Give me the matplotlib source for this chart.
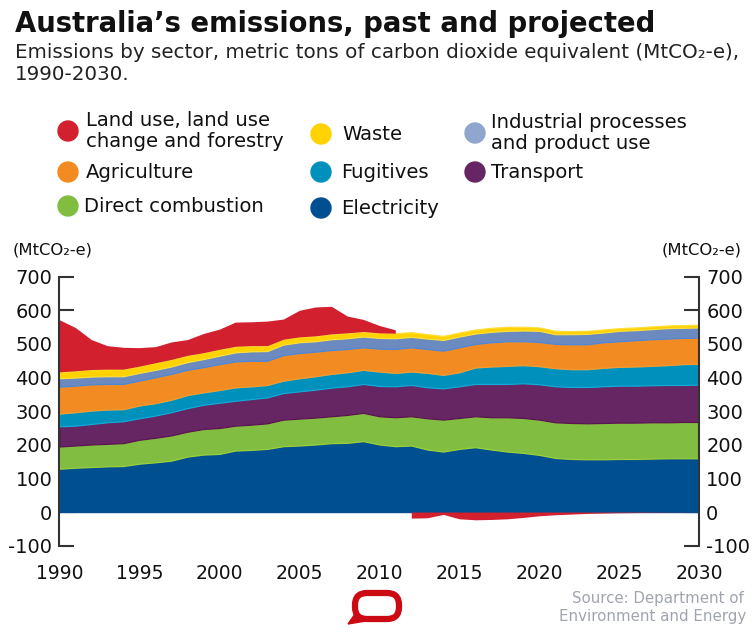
import numpy as np
import matplotlib
matplotlib.use("Agg")
import matplotlib.pyplot as plt
from matplotlib.patches import Circle, FancyBboxPatch, Polygon

plt.rcParams["axes.unicode_minus"] = False

# Jahre 1990-2030
years = np.arange(1990, 2031)

# Sektoren, MtCO2-e
electricity = [129, 132, 134, 136, 137, 144, 148, 153, 165, 171, 173, 183, 185, 188, 196, 198,
               201, 205, 206, 211, 201, 196, 198, 186, 180, 188, 193, 186, 180, 176, 170, 161,
               158, 157, 157, 158, 158, 159, 160, 160, 160]
direct_combustion = [66, 66, 67, 67, 68, 71, 73, 75, 74, 76, 77, 74, 75, 76, 79, 80,
                     80, 80, 83, 84, 84, 86, 87, 93, 95, 92, 92, 96, 102, 104, 105, 106,
                     107, 107, 108, 108, 108, 108, 107, 108, 108]
transport = [60, 59, 61, 64, 65, 64, 66, 69, 70, 72, 75, 74, 76, 77, 79, 81,
             83, 85, 85, 86, 90, 92, 93, 92, 93, 94, 96, 99, 99, 103, 105, 107,
             107, 108, 109, 110, 110, 110, 111, 110, 111]
fugitives = [38, 40, 40, 38, 36, 38, 37, 37, 39, 37, 38, 40, 38, 37, 37, 39,
             40, 41, 42, 42, 43, 40, 40, 43, 40, 42, 49, 52, 54, 54, 54, 54,
             53, 53, 55, 56, 57, 58, 59, 62, 62]
agriculture = [80, 79, 78, 76, 75, 74, 77, 77, 75, 75, 77, 77, 76, 72, 76, 75,
               73, 71, 69, 67, 68, 71, 72, 71, 72, 74, 70, 72, 73, 71, 72, 72,
               74, 74, 76, 76, 78, 79, 79, 78, 78]
industrial = [25, 24, 23, 23, 23, 23, 22, 22, 23, 24, 25, 27, 28, 29, 31, 32,
              31, 32, 32, 32, 32, 32, 31, 31, 32, 32, 31, 31, 31, 32, 33, 29,
              30, 31, 29, 31, 30, 30, 31, 30, 30]
waste = [19, 20, 21, 21, 21, 20, 21, 21, 20, 19, 19, 18, 17, 16, 16, 16,
         16, 16, 16, 15, 15, 15, 14, 13, 12, 12, 12, 12, 12, 11, 10, 10,
         9, 9, 9, 8, 8, 8, 8, 8, 8]
lulucf = [155, 129, 89, 70, 65, 55, 48, 52, 47, 57, 60, 72, 71, 73, 60, 79,
          86, 82, 50, 36, 22, 10, -18, -17, -7, -20, -23, -22, -20, -16, -11, -8,
          -6, -4, -3, -2, -1.5, -1, -0.5, -0.3, 0]

sectors = [electricity, direct_combustion, transport, fugitives, agriculture, industrial, waste]
sector_colors = ["#004F91", "#80BD41", "#652663", "#0090BC", "#F28C22", "#6B8AC0", "#FFD200"]
edge_colors = ["#0A4C8C", "#9BD03A", "#5A1552", "#14AAD8", "#F39A2E", "#4F86D6", "#FFDE3A"]
red = "#D2202F"

fig = plt.figure(figsize=(7.54, 6.35), dpi=100)
W, H = 754, 635


def px(x, y):
    return x / W, 1 - y / H


ax = fig.add_axes([59.3 / W, 1 - 545.7 / H, 640 / W, 269 / H])
ax.set_axisbelow(True)

polys = ax.stackplot(years, *sectors, colors=sector_colors, linewidth=0.9, zorder=1)
for p, ec in zip(polys, edge_colors):
    p.set_edgecolor(ec)
top = np.sum(np.array(sectors), axis=0)
lu = np.array(lulucf, dtype=float)
pos = years <= 2011
neg = years >= 2012
ax.fill_between(years[pos], top[pos], top[pos] + lu[pos], color=red, lw=0, zorder=1)
ax.fill_between(years[neg], 0, lu[neg], color=red, lw=0, zorder=1)

ax.set_xlim(1990, 2030)
ax.set_ylim(-100, 700)
ax.set_xticks(range(1990, 2031, 5))
ax.set_yticks(range(-100, 701, 100))
ax.tick_params(axis="x", length=0, pad=13, labelsize=13.5, colors="#111111")
ax.tick_params(axis="y", direction="in", length=11, width=1.5, color="#333333",
               labelsize=14, pad=5, right=True, labelright=True, labelcolor="#111111")
for s in ["top", "bottom"]:
    ax.spines[s].set_visible(False)
for s in ["left", "right"]:
    ax.spines[s].set_color("#333333")
    ax.spines[s].set_linewidth(1.5)
    ax.spines[s].set_zorder(3)

fig.text(*px(13, 250), "(MtCO₂-e)", fontsize=11.8, va="center", ha="left", color="#111111")
fig.text(*px(742, 250), "(MtCO₂-e)", fontsize=11.8, va="center", ha="right", color="#111111")

# Titel
fig.text(*px(15, 24), "Australia’s emissions, past and projected", fontsize=19.8,
         fontweight="bold", va="center", ha="left", color="#111111")
fig.text(*px(15, 52), "Emissions by sector, metric tons of carbon dioxide equivalent (MtCO₂-e),",
         fontsize=14.3, va="center", ha="left", color="#222222")
fig.text(*px(15, 75), "1990-2030.", fontsize=14.3, va="center", ha="left", color="#222222")

# Legende
legend_items = [
    ("Land use, land use\nchange and forestry", red, 68, 131, 86),
    ("Agriculture", "#F28C22", 68, 172, 86),
    ("Direct combustion", "#80BD41", 68, 206, 84),
    ("Waste", "#FFD200", 321, 134, 342),
    ("Fugitives", "#0090BC", 321, 172, 341),
    ("Electricity", "#004F91", 321, 208, 341),
    ("Industrial processes\nand product use", "#90A6CE", 475, 133, 491),
    ("Transport", "#652663", 475, 172, 491),
]
for label, col, cx, cy, tx in legend_items:
    fig.add_artist(Circle((cx / 100, (H - cy) / 100), 0.10, color=col,
                          transform=fig.dpi_scale_trans))
    fig.text(*px(tx, cy), label, fontsize=14.1, va="center", ha="left",
             color="#111111", linespacing=1.15)

fig.text(*px(744, 598), "Source: Department of", fontsize=10.8, ha="right", va="center",
         color="#A0A4AE")
fig.text(*px(746, 617), "Environment and Energy", fontsize=10.8, ha="right", va="center",
         color="#A0A4AE")

# Logo
logo_red = "#CC0A14"
fig.add_artist(FancyBboxPatch((3.55, 0.16), 0.44, 0.26,
                              boxstyle="round,pad=0,rounding_size=0.12",
                              fill=False, ec=logo_red, lw=4.5,
                              transform=fig.dpi_scale_trans))
fig.add_artist(Polygon([(3.55, 0.21), (3.48, 0.11), (3.72, 0.15)],
                       closed=True, color=logo_red, transform=fig.dpi_scale_trans))

fig.savefig("out.png", dpi=100)
